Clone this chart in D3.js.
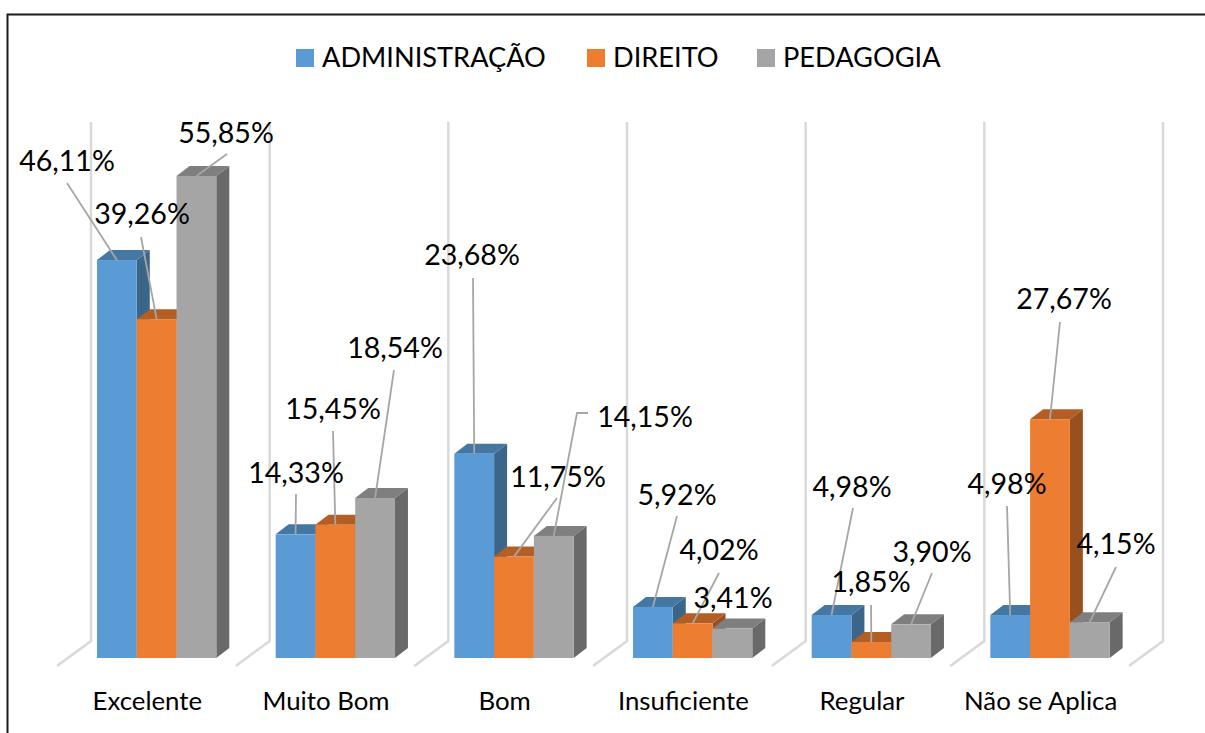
<!DOCTYPE html>
<html><head><meta charset="utf-8">
<script src="https://cdn.jsdelivr.net/npm/d3@7"></script>
<style>html,body{margin:0;padding:0;background:#fff}svg{display:block}text{font-family:Lato,"Noto Sans",sans-serif;fill:#000}</style>
</head><body><div id="chart"></div>
<script>
const categories = ["Excelente","Muito Bom","Bom","Insuficiente","Regular","Não se Aplica"];
const seriesNames = ["ADMINISTRAÇÃO","DIREITO","PEDAGOGIA"];
const administracao = [46.11,14.33,23.68,5.92,4.98,4.98];
const direito = [39.26,15.45,11.75,4.02,1.85,27.67];
const pedagogia = [55.85,18.54,14.15,3.41,3.90,4.15];
const seriesValues = [administracao,direito,pedagogia];

// Annotation layout: label centre and leader start, per series then category
const labelLayout = [
 [[67,161,67,183],[296,473,296,494],[472,255,473,278],[677,495,677,516],[852,487,853,508],[1007,484,1007,506]],
 [[142,214,141,237],[333,409,333,431],[558,477,557,498],[719,550,719,573],[871,582,871,605],[1064,299,1060,322]],
 [[226,133,227,154],[395,348,394,370],[645,417,588,413,577,413],[733,598],[932,552,932,573],[1116,544,1116,567]]
];
const palette = [
 {front:"#5b9bd5",top:"#4577a3",side:"#3b6689"},
 {front:"#ed7d31",top:"#b35e24",side:"#98501f"},
 {front:"#a5a5a5",top:"#7f7f7f",side:"#696969"}
];
const W=1205,H=733,depthX=13,depthY=10;
const svg=d3.select("#chart").append("svg").attr("width",W).attr("height",H);
const fmt=v=>v.toFixed(2).replace(".",",")+"%";

const x0=d3.scaleBand().domain(categories).range([57,1129]);
const x1=d3.scaleBand().domain(seriesNames).range([40,159.3]);
const y=d3.scaleLinear().domain([0,60]).range([658,140.2]);

// frame
svg.append("path").attr("d",`M7.5,${H+2}V14.5H${W+2}`).attr("fill","none").attr("stroke","#1a1a1a").attr("stroke-width",2);

// grid walls
const wallTop=122, wallFloorY=641, frontFloorY=666;
const gridXs=categories.map(c=>x0(c)).concat([x0.range()[1]]);
gridXs.forEach(gx=>{
  svg.append("path").attr("d",`M${gx},${frontFloorY}L${gx+34},${wallFloorY}V${wallTop}`)
    .attr("fill","none").attr("stroke","#d9d9d9").attr("stroke-width",2.5);
});

// bars
categories.forEach((c,ci)=>{
  const g=svg.append("g");
  seriesNames.forEach((s,si)=>{
    const v=seriesValues[si][ci], l=x0(c)+x1(s), w=x1.bandwidth(), t=y(v), b=y(0), p=palette[si];
    g.append("polygon").attr("fill",p.side)
      .attr("points",[[l+w,t],[l+w+depthX,t-depthY],[l+w+depthX,b-depthY],[l+w,b]].join(" "));
    g.append("polygon").attr("fill",p.top)
      .attr("points",[[l,t],[l+depthX,t-depthY],[l+w+depthX,t-depthY],[l+w,t]].join(" "));
    g.append("rect").attr("x",l).attr("y",t).attr("width",w).attr("height",b-t).attr("fill",p.front);
  });
});

// leaders and value labels
const lead=svg.append("g"), lab=svg.append("g");
seriesNames.forEach((s,si)=>categories.forEach((c,ci)=>{
  const v=seriesValues[si][ci], L=labelLayout[si][ci];
  const endX=x0(c)+x1(s)+x1.bandwidth()/2, endY=y(v);
  if(L.length>2){
    const pts=[]; for(let i=2;i<L.length;i+=2) pts.push([L[i],L[i+1]]);
    pts.push([endX,endY]);
    lead.append("path").attr("d",d3.line()(pts)).attr("fill","none").attr("stroke","#a6a6a6").attr("stroke-width",1.8);
  }
  lab.append("text").attr("x",L[0]).attr("y",L[1]+10).attr("text-anchor","middle").attr("font-size",28.6).text(fmt(v));
}));

// category labels
categories.forEach(c=>{
  svg.append("text").attr("x",x0(c)+x0.bandwidth()/2+1).attr("y",710).attr("text-anchor","middle").attr("font-size",25.8).text(c);
});

// legend
const legendX=[296,587,757];
seriesNames.forEach((s,i)=>{
  svg.append("rect").attr("x",legendX[i]).attr("y",49).attr("width",18).attr("height",18).attr("fill",palette[i].front);
  svg.append("text").attr("x",legendX[i]+26).attr("y",67).attr("font-size",27.2).text(s);
});
</script></body></html>
